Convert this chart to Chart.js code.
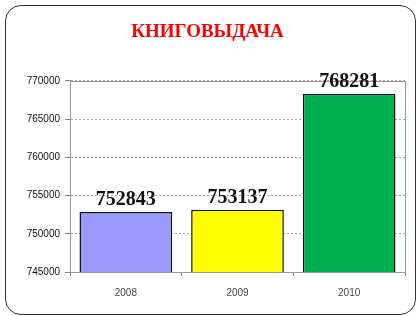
<!DOCTYPE html>
<html>
<head>
<meta charset="utf-8">
<script src="https://cdn.jsdelivr.net/npm/chart.js@4"></script>
<style>
    html, body { margin: 0; padding: 0; background: #fff; }
    #wrap { position: relative; width: 416px; height: 316px; }
    #frame {
        position: absolute; left: 5px; top: 5px; width: 411px; height: 310px;
        box-sizing: border-box; border: 1.5px solid #333; border-radius: 16px;
        pointer-events: none;
    }
    canvas { position: absolute; left: 0; top: 0; }
</style>
</head>
<body>
<div id="wrap">
    <canvas id="chart" width="416" height="316"></canvas>
    <div id="frame"></div>
</div>
<script>
const years = ['2008', '2009', '2010'];
const loans = [752843, 753137, 768281];
const barColors = ['#9999ff', '#ffff00', '#00b050'];
const yTicks = [745000, 750000, 755000, 760000, 765000, 770000];

// values above bars
const valueLabels = {
    id: 'valueLabels',
    afterDatasetsDraw(chart) {
        const ctx = chart.ctx;
        const meta = chart.getDatasetMeta(0);
        ctx.save();
        ctx.font = 'bold 20px "Liberation Serif", "Times New Roman", serif';
        ctx.fillStyle = '#111';
        ctx.textAlign = 'center';
        ctx.textBaseline = 'bottom';
        meta.data.forEach((bar, i) => {
            ctx.fillText(String(loans[i]), bar.x, bar.y - 2);
        });
        ctx.restore();
    }
};

// grey box round the plot
const plotBox = {
    id: 'plotBox',
    beforeDatasetsDraw(chart) {
        const a = chart.chartArea;
        const ctx = chart.ctx;
        ctx.save();
        ctx.strokeStyle = '#999';
        ctx.lineWidth = 1;
        ctx.strokeRect(Math.round(a.left) + 0.5, Math.round(a.top) + 0.5,
            Math.round(a.right - a.left), Math.round(a.bottom - a.top));
        ctx.restore();
    }
};

new Chart(document.getElementById('chart'), {
    type: 'bar',
    data: {
        labels: years,
        datasets: [{
            data: loans,
            backgroundColor: barColors,
            borderColor: '#111',
            borderWidth: 1.5,
            barPercentage: 0.83,
            categoryPercentage: 1
        }]
    },
    options: {
        responsive: false,
        animation: false,
        layout: { padding: { left: 10, right: 11, top: 10, bottom: 14 } },
        plugins: {
            legend: { display: false },
            tooltip: { enabled: false },
            title: {
                display: true,
                text: 'КНИГОВЫДАЧА',
                color: '#ff0000',
                font: { family: '"Liberation Serif", "Times New Roman", serif', size: 19, weight: 'bold' },
                padding: { top: 11, bottom: 37 }
            }
        },
        scales: {
            x: {
                afterFit(scale) { scale.height = 30; },
                grid: { offset: true, drawOnChartArea: false, tickLength: 4, color: '#888' },
                border: { color: '#888' },
                ticks: { color: '#444', font: { family: '"Liberation Sans", Arial, sans-serif', size: 10 }, padding: 11 }
            },
            y: {
                min: yTicks[0],
                max: yTicks[yTicks.length - 1],
                afterFit(scale) { scale.width = 60; },
                afterBuildTicks(scale) { scale.ticks = yTicks.map(v => ({ value: v })); },
                grid: { color: '#aaa', tickLength: 5, tickColor: '#888' },
                border: { color: '#888', dash: [2, 2] },
                ticks: {
                    color: '#111',
                    font: { family: '"Liberation Sans", Arial, sans-serif', size: 10 },
                    padding: 5,
                    callback: v => String(v)
                }
            }
        }
    },
    plugins: [plotBox, valueLabels]
});
</script>
</body>
</html>
